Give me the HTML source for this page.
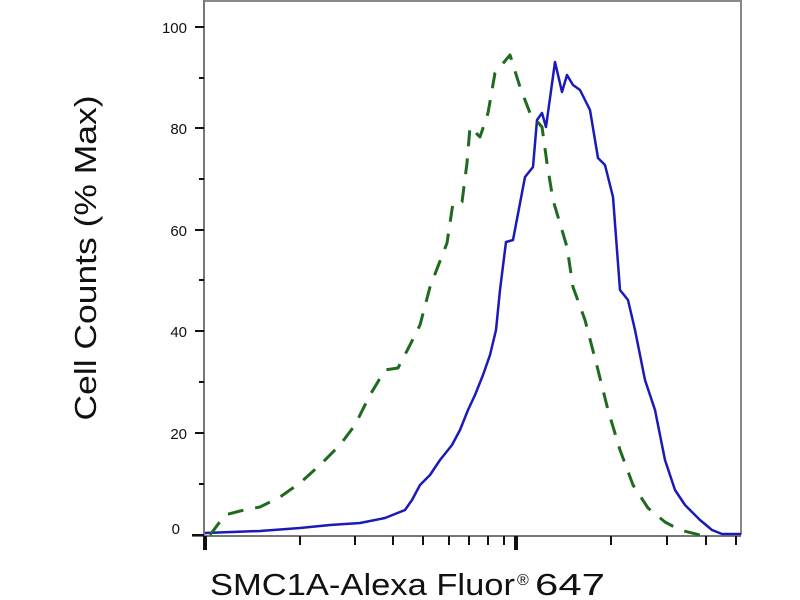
<!DOCTYPE html>
<html><head><meta charset="utf-8"><style>
html,body{margin:0;padding:0;background:#fff;width:800px;height:600px;overflow:hidden}
</style></head><body>
<svg width="800" height="600" viewBox="0 0 800 600" xmlns="http://www.w3.org/2000/svg" font-family="Liberation Sans, Arial, sans-serif">
<rect width="800" height="600" fill="#fff"/>
<path d="M204,1 H741 V535" fill="none" stroke="#888" stroke-width="2"/>
<line x1="204" y1="0" x2="204" y2="537" stroke="#777" stroke-width="2"/>
<line x1="192" y1="536" x2="741" y2="536" stroke="#777" stroke-width="2"/>
<g stroke="#111" stroke-width="2">
<line x1="195" y1="27" x2="204" y2="27"/><line x1="195" y1="128" x2="204" y2="128"/>
<line x1="195" y1="230" x2="204" y2="230"/><line x1="195" y1="331" x2="204" y2="331"/>
<line x1="195" y1="433" x2="204" y2="433"/><line x1="192" y1="535" x2="204" y2="535"/>
<line x1="199" y1="78" x2="204" y2="78"/><line x1="199" y1="179" x2="204" y2="179"/>
<line x1="199" y1="280" x2="204" y2="280"/><line x1="199" y1="382" x2="204" y2="382"/>
<line x1="199" y1="484" x2="204" y2="484"/>
</g>
<g font-size="15" fill="#111" text-anchor="end">
<text x="187" y="33">100</text><text x="187" y="134">80</text><text x="187" y="236">60</text>
<text x="187" y="337">40</text><text x="187" y="439">20</text><text x="180" y="534">0</text>
</g>
<g stroke="#111" stroke-width="2">
<line x1="205" y1="536" x2="205" y2="550" stroke-width="4"/>
<line x1="516" y1="536" x2="516" y2="550" stroke-width="4"/>
<line x1="300" y1="536" x2="300" y2="545"/><line x1="355" y1="536" x2="355" y2="545"/>
<line x1="393" y1="536" x2="393" y2="545"/><line x1="423" y1="536" x2="423" y2="545"/>
<line x1="449" y1="536" x2="449" y2="545"/><line x1="469" y1="536" x2="469" y2="545"/>
<line x1="488" y1="536" x2="488" y2="545"/><line x1="504" y1="536" x2="504" y2="545"/>
<line x1="611" y1="536" x2="611" y2="545"/><line x1="667" y1="536" x2="667" y2="545"/>
<line x1="706" y1="536" x2="706" y2="545"/><line x1="736" y1="536" x2="736" y2="545"/>
</g>
<polyline fill="none" stroke="#1a1ab8" stroke-width="2.5" stroke-linejoin="round" points="
205,533 260,531 300,528 330,525 360,523 385,518 395,514 405,510 412,500 420,485 430,475 440,460 452,445 460,430 468,410 475,395 483,375 490,355 496,330 500,290 506,242 513,240 525,177 533,167 537,120 542,113 546,127 555,62 562,92 567,75 573,85 580,90 590,110 598,158 605,165 613,197 620,290 628,300 635,330 645,380 655,410 665,460 675,490 685,505 700,520 712,530 722,534 741,534"/>
<polyline fill="none" stroke="#1e6a1e" stroke-width="3" stroke-dasharray="16,12" stroke-linejoin="round" points="
210,535 225,515 240,511 260,507 280,497 300,483 320,465 340,445 355,425 370,395 385,370 398,368 410,345 420,325 430,287 447,243 453,203 462,202 467,163 470,127 480,137 488,113 495,73 510,55 520,87 530,113 542,127 547,163 553,200 567,247 573,287 585,320 598,370 608,410 620,450 633,485 648,508 665,522 680,530 700,535"/>
<text transform="translate(96,258) rotate(-90)" text-anchor="middle" font-size="31" fill="#111" textLength="325" lengthAdjust="spacingAndGlyphs">Cell Counts (% Max)</text>
<text x="210" y="595" font-size="31" fill="#111" textLength="305" lengthAdjust="spacingAndGlyphs">SMC1A-Alexa Fluor</text>
<text x="517" y="585" font-size="16" fill="#111">®</text>
<text x="535" y="595" font-size="31" fill="#111" textLength="70" lengthAdjust="spacingAndGlyphs">647</text>
</svg>
</body></html>
